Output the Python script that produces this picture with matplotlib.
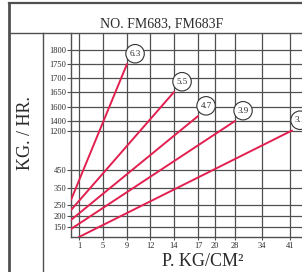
import numpy as np
import matplotlib
matplotlib.use("Agg")
import matplotlib.pyplot as plt
from matplotlib.lines import Line2D

# ---------------- data ----------------
pressure_ticks = [1, 5, 9, 12, 14, 17, 20, 28, 34, 41]
flow_ticks = [150, 200, 250, 350, 450, 1200, 1400, 1600, 1650, 1700, 1750, 1800]
orifice_labels = ["6.3", "5.5", "4.7", "3.9", "3.1"]
p_start = [0, 0, 0, 0, 1]
q_start = [280, 227, 182, 140, 100]
p_end = [9, 14, 17, 28, 41.5]
q_end = [1750, 1650, 1470, 1400, 1210]

title = "NO. FM683, FM683F"
ylabel = "KG. / HR."
xlabel = "P. KG/CM\u00b2"

# ---------------- non-uniform axis scales (chart's printed grid) ----------------
X_V = np.array([0, 1, 5, 9, 12, 14, 17, 20, 28, 34, 41, 48], float)
X_P = np.array([71, 79, 103, 127, 150, 174, 198, 215, 235, 262, 290, 318], float)
Y_V = np.array([100, 150, 200, 250, 350, 450, 1200, 1400, 1600, 1650, 1700, 1750, 1800, 1900], float)
Y_P = -np.array([237, 227, 216, 205, 188, 170, 131, 121, 107, 92, 78, 64, 50, 22], float)

def xf(v):
    return np.interp(v, X_V, X_P)

def xi(p):
    return np.interp(p, X_P, X_V)

def yf(v):
    return np.interp(v, Y_V, Y_P)

def yi(p):
    return np.interp(p, Y_P, Y_V)

W, H = 302, 272
plt.rcParams["font.family"] = ["Liberation Serif", "DejaVu Serif"]
ink = "#2b2b2b"
gridc = "#505050"
red = "#e2204f"

fig = plt.figure(figsize=(W / 100, H / 100), dpi=100)
fig.patch.set_facecolor("white")

ax = fig.add_axes([71 / W, (H - 237) / H, (W - 71) / W, (237 - 33) / H])
ax.set_xscale("function", functions=(xf, xi))
ax.set_yscale("function", functions=(yf, yi))
ax.set_xlim(0, float(xi(302)))
ax.set_ylim(100, float(yi(-33)))

ax.set_xticks(pressure_ticks)
ax.set_xticklabels([str(t) for t in pressure_ticks])
ax.set_yticks(flow_ticks)
ax.set_yticklabels([str(t) for t in flow_ticks])
ax.minorticks_off()
ax.tick_params(axis="y", length=3, width=0.8, color=gridc, pad=0.5,
               labelsize=6, labelcolor=ink)
ax.tick_params(axis="x", length=2.5, width=0.8, color=gridc, pad=1,
               labelsize=6, labelcolor=ink)
ax.grid(True, color=gridc, lw=0.9)
for s in ["top", "right"]:
    ax.spines[s].set_visible(False)
for s in ["left", "bottom"]:
    ax.spines[s].set_color(gridc)
    ax.spines[s].set_linewidth(1.0)
ax.set_axisbelow(True)

for lbl, ps, qs, pe, qe in zip(orifice_labels, p_start, q_start, p_end, q_end):
    ax.plot([ps, pe], [qs, qe], color=red, lw=1.4, solid_capstyle="round", zorder=3)
    ax.annotate(lbl, xy=(pe, qe), xytext=(5.8, 7.4), textcoords="offset points",
                ha="center", va="center", fontsize=6.5, color=ink, zorder=5,
                annotation_clip=False,
                bbox=dict(boxstyle="circle,pad=0.4", fc="white", ec="#333333", lw=0.8))

# frame of the printed chart
def fline(x0, y0, x1, y1, lw=1.0):
    fig.add_artist(Line2D([x0 / W, x1 / W], [1 - y0 / H, 1 - y1 / H],
                          transform=fig.transFigure, color=gridc, lw=lw))

fline(9, 3, 9, H, lw=2.0)
fline(9, 3, W, 3, lw=1.6)
fline(9, 33, W, 33, lw=1.0)
fline(43, 33, 43, H, lw=1.0)

fig.text(162 / W, 1 - 24 / H, title, ha="center", va="center", fontsize=10, color=ink)
fig.text(25 / W, 1 - 133 / H, ylabel, ha="center", va="center", rotation=90,
         fontsize=13, color=ink)
fig.text(203 / W, 1 - 262 / H, xlabel, ha="center", va="center", fontsize=13, color=ink)

fig.savefig("out.png", dpi=100, facecolor="white")
